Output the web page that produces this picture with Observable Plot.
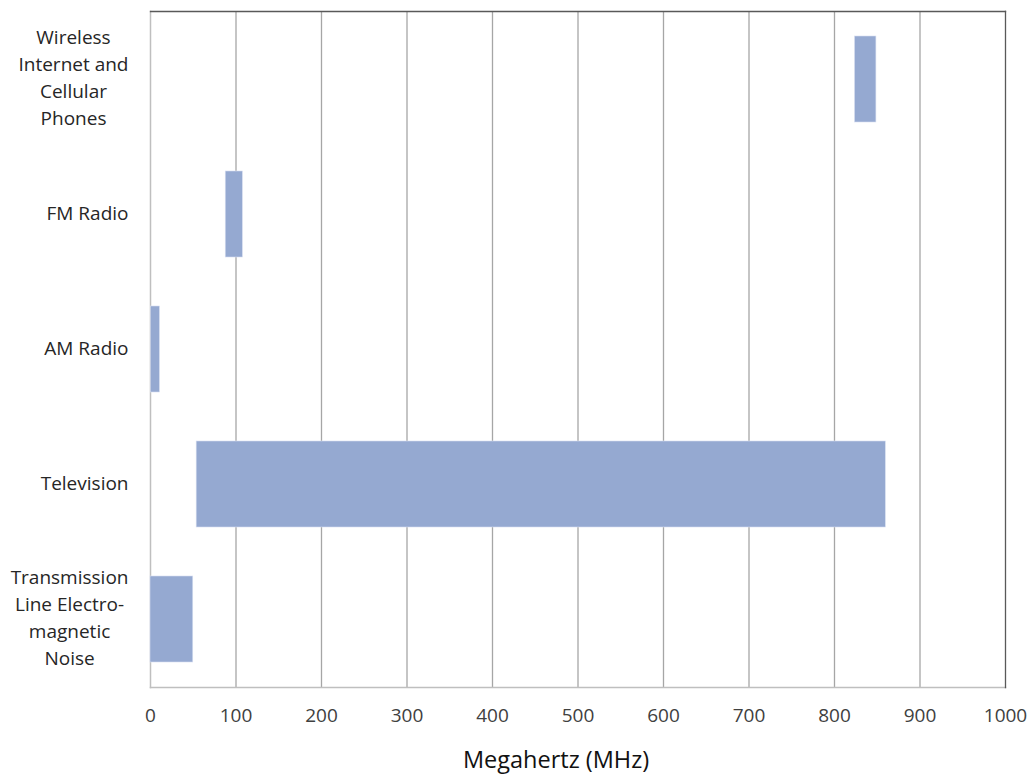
<!DOCTYPE html>
<html>
<head>
<meta charset="utf-8">
<script src="https://cdn.jsdelivr.net/npm/d3@7"></script>
<script src="https://cdn.jsdelivr.net/npm/@observablehq/plot@0.6"></script>
<style>
  html, body { margin: 0; padding: 0; background: #fff; }
  svg { display: block; }
</style>
</head>
<body>
<div id="chart"></div>
<script>
const categories = [
  "Wireless\nInternet and\nCellular\nPhones",
  "FM Radio",
  "AM Radio",
  "Television",
  "Transmission\nLine Electro-\nmagnetic\nNoise"
];
const startMHz = [824, 88, 0.5, 54, 0];
const endMHz = [849, 108, 11, 860, 50];
const xTicks = [0, 100, 200, 300, 400, 500, 600, 700, 800, 900, 1000];
const gridTicks = [100, 200, 300, 400, 500, 600, 700, 800, 900];
const axisTitle = "Megahertz (MHz)";

const data = categories.map((c, i) => ({cat: c, x1: startMHz[i], x2: endMHz[i]}));
const font = "'Open Sans', Lato, sans-serif";
const labelSize = 19;

// measure label block widths so each block is right-aligned, with lines centred inside
const ctx = document.createElement("canvas").getContext("2d");
ctx.font = `${labelSize}px 'Open Sans'`;
const blockWidth = c => Math.max(...c.split("\n").map(s => ctx.measureText(s).width));
const labelGap = 22;

const labelMarks = categories.map(c =>
  Plot.text([c], {
    y: d => d, text: d => d, frameAnchor: "left",
    dx: -labelGap - blockWidth(c) / 2, dy: -3.5,
    textAnchor: "middle", lineHeight: 1.42, fontSize: labelSize,
    fill: "#262626", fontFamily: font
  })
);

const chart = Plot.plot({
  width: 1030,
  height: 777,
  marginLeft: 150,
  marginRight: 25,
  marginTop: 11,
  marginBottom: 90,
  style: {fontFamily: font, background: "#fff"},
  x: {domain: [0, 1000]},
  y: {domain: categories, paddingInner: 0.364, paddingOuter: 0.182},
  marks: [
    Plot.ruleX(gridTicks, {stroke: "#a6a6a6", strokeWidth: 1.3}),
    Plot.frame({anchor: "left", stroke: "#bfbfbf", strokeWidth: 1.5}),
    Plot.frame({anchor: "bottom", stroke: "#bfbfbf", strokeWidth: 1.5}),
    Plot.frame({anchor: "top", stroke: "#595959", strokeWidth: 1.3}),
    Plot.frame({anchor: "right", stroke: "#595959", strokeWidth: 1.3}),
    Plot.barX(data, {y: "cat", x1: "x1", x2: "x2", fill: "#95a9d1", stroke: "#d6def0", strokeWidth: 0.6}),
    Plot.axisX(xTicks, {tickSize: 0, tickPadding: 21, fontSize: 19, fill: "#404040", label: null, fontFamily: font, tickFormat: d => String(d)}),
    Plot.axisY({ticks: [], label: null, tickSize: 0, tickFormat: () => ""}),
    ...labelMarks,
    Plot.text([axisTitle], {text: d => d, frameAnchor: "bottom", dx: -22, dy: 80, fontSize: 23.5, fill: "#111", fontFamily: font})
  ]
});
document.getElementById("chart").appendChild(chart);
</script>
</body>
</html>
